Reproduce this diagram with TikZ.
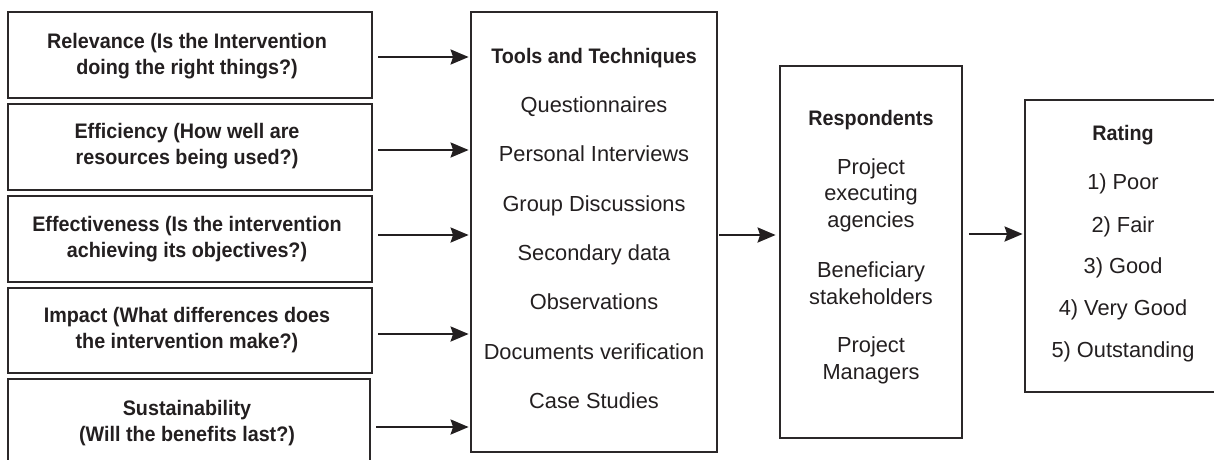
\documentclass[tikz,border=0pt]{standalone}
\usepackage{fontspec}
\setmainfont{Liberation Sans}[BoldFeatures={FakeStretch=0.94}]
\usetikzlibrary{arrows.meta}
\definecolor{ink}{HTML}{231F20}
\definecolor{frame}{HTML}{2B2829}
\tikzset{
  box/.style={draw=frame, line width=2.8pt, rectangle, inner sep=0pt},
  txt/.style={anchor=base, inner sep=0pt, text=ink, font=\fontsize{21.8}{25}\selectfont},
  head/.style={txt, font=\fontsize{21}{25}\selectfont\bfseries},
  arr/.style={draw=ink, line width=2.4pt, -{Stealth[length=18pt,width=15pt,inset=2.5pt]},
              shorten <=5pt, shorten >=1pt},
}
\begin{document}
\begin{tikzpicture}[x=1pt,y=-1pt]
\useasboundingbox (0,0) rectangle (1214,459);
\fill[white] (0,0) rectangle (1214,459);
\clip (0,0) rectangle (1214,459);

% criteria boxes
\node[box, minimum width=364pt, minimum height=86pt] (b1) at (190,55) {};
\node[box, minimum width=364pt, minimum height=86pt] (b2) at (190,147) {};
\node[box, minimum width=364pt, minimum height=86pt] (b3) at (190,239) {};
\node[box, minimum width=364pt, minimum height=85pt] (b4) at (190,330.5) {};
\node[box, minimum width=362pt, minimum height=86pt] (b5) at (189,422) {};

\node[head] (b1a) at (187,48) {Relevance (Is the Intervention};
\node[head] (b1b) at (187,74) {doing the right things?)};
\node[head] (b2a) at (187,138) {Efficiency (How well are};
\node[head] (b2b) at (187,164) {resources being used?)};
\node[head] (b3a) at (187,231) {Effectiveness (Is the intervention};
\node[head] (b3b) at (187,257) {achieving its objectives?)};
\node[head] (b4a) at (187,322) {Impact (What differences does};
\node[head] (b4b) at (187,348) {the intervention make?)};
\node[head] (b5a) at (187,415) {Sustainability};
\node[head] (b5b) at (187,441) {(Will the benefits last?)};

% tools and techniques
\node[box, minimum width=246pt, minimum height=440pt] (tools) at (594,232) {};
\node[head] (t0) at (594,63) {Tools and Techniques};
\node[txt] (t1) at (594,112) {Questionnaires};
\node[txt] (t2) at (594,161) {Personal Interviews};
\node[txt] (t3) at (594,211) {Group Discussions};
\node[txt] (t4) at (594,260) {Secondary data};
\node[txt] (t5) at (594,309) {Observations};
\node[txt] (t6) at (594,359) {Documents verification};
\node[txt] (t7) at (594,408) {Case Studies};

% respondents
\node[box, minimum width=182pt, minimum height=372pt] (resp) at (871,252) {};
\node[head] (r0) at (871,125) {Respondents};
\node[txt] (r1) at (871,174) {Project};
\node[txt] (r2) at (871,200.5) {executing};
\node[txt] (r3) at (871,227) {agencies};
\node[txt] (r4) at (871,277) {Beneficiary};
\node[txt] (r5) at (871,304) {stakeholders};
\node[txt] (r6) at (871,352) {Project};
\node[txt] (r7) at (871,379) {Managers};

% rating scale
\node[box, minimum width=196pt, minimum height=292pt] (rate) at (1123,246) {};
\node[head] (s0) at (1123,140) {Rating};
\node[txt] (s1) at (1123,189) {1) Poor};
\node[txt] (s2) at (1123,232) {2) Fair};
\node[txt] (s3) at (1123,273) {3) Good};
\node[txt] (s4) at (1123,315) {4) Very Good};
\node[txt] (s5) at (1123,357) {5) Outstanding};

% connector heights
\coordinate (y1) at (0,57);
\coordinate (y2) at (0,150);
\coordinate (y3) at (0,235);
\coordinate (y4) at (0,334);
\coordinate (y5) at (0,427);

\draw[arr] (b1.east |- y1) -- (tools.west |- y1);
\draw[arr] (b2.east |- y2) -- (tools.west |- y2);
\draw[arr] (b3.east |- y3) -- (tools.west |- y3);
\draw[arr] (b4.east |- y4) -- (tools.west |- y4);
\draw[arr] (b5.east |- y5) -- (tools.west |- y5);
\draw[arr, shorten <=1pt, shorten >=3pt] (tools.east |- y3) -- (resp.west |- y3);
\draw[arr, shorten <=5.5pt] (resp.east |- 0,234) -- (rate.west |- 0,234);
\end{tikzpicture}
\end{document}
